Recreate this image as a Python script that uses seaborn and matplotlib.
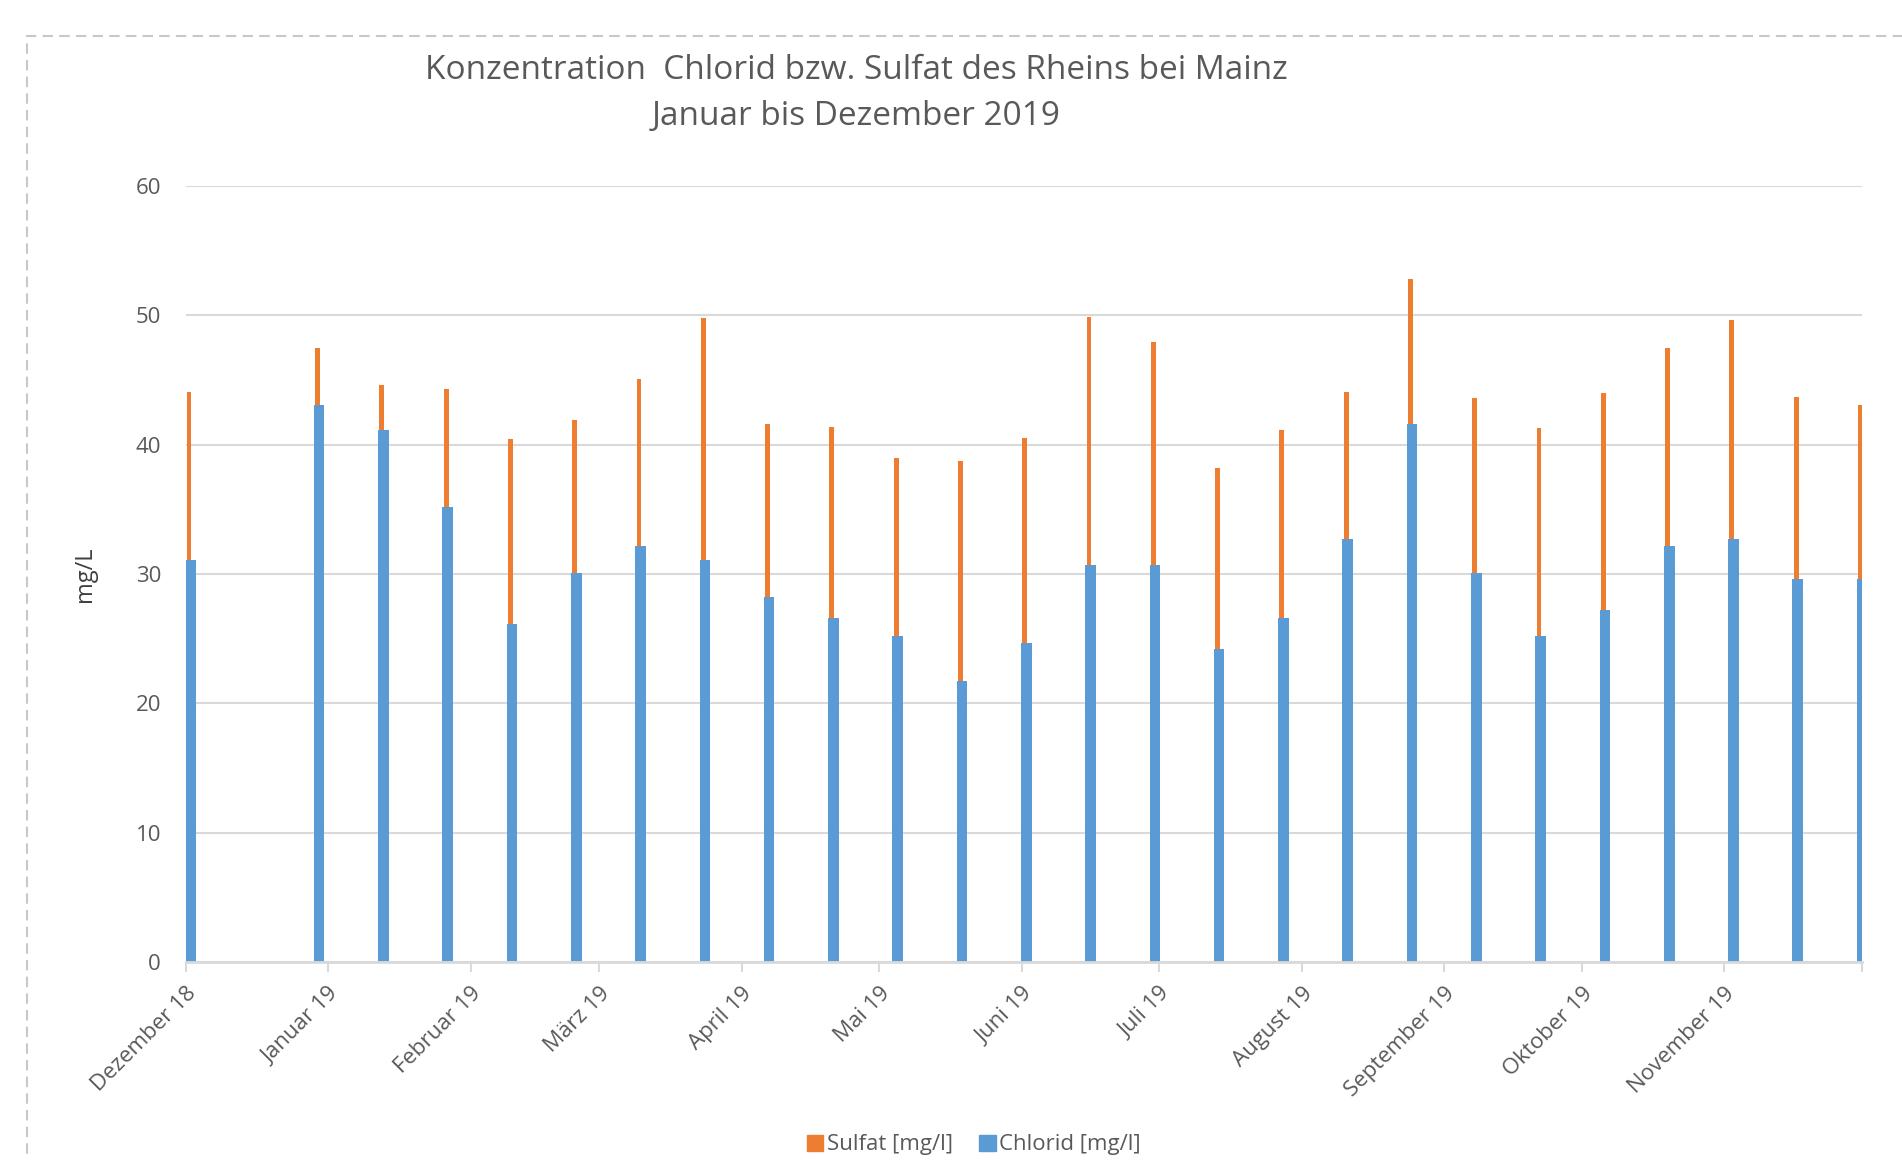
import numpy as np
import pandas as pd
import matplotlib
matplotlib.use("Agg")
import matplotlib.pyplot as plt
import matplotlib.dates as mdates
import matplotlib.patches as mpatches
import seaborn as sns

# ---- data ----
dates = ["2018-12-02", "2018-12-30", "2019-01-13", "2019-01-27", "2019-02-10",
         "2019-02-24", "2019-03-10", "2019-03-24", "2019-04-07", "2019-04-21",
         "2019-05-05", "2019-05-19", "2019-06-02", "2019-06-16", "2019-06-30",
         "2019-07-14", "2019-07-28", "2019-08-11", "2019-08-25", "2019-09-08",
         "2019-09-22", "2019-10-06", "2019-10-20", "2019-11-03", "2019-11-17",
         "2019-12-01"]
sulfat = [44.1, 47.5, 44.6, 44.3, 40.4, 41.9, 45.1, 49.8, 41.6, 41.4,
          39.0, 38.7, 40.5, 49.9, 47.9, 38.2, 41.1, 44.1, 52.8, 43.6,
          41.3, 44.0, 47.5, 49.6, 43.7, 43.1]
chlorid = [31.1, 43.1, 41.1, 35.2, 26.1, 30.1, 32.2, 31.1, 28.2, 26.6,
           25.2, 21.7, 24.7, 30.7, 30.7, 24.2, 26.6, 32.7, 41.6, 30.1,
           25.2, 27.2, 32.2, 32.7, 29.6, 29.6]
month_ticks = ["2018-12-01", "2019-01-01", "2019-02-01", "2019-03-01", "2019-04-01",
               "2019-05-01", "2019-06-01", "2019-07-01", "2019-08-01", "2019-09-01",
               "2019-10-01", "2019-11-01", "2019-12-01"]
month_labels = ["Dezember 18", "Januar 19", "Februar 19", "März 19", "April 19",
                "Mai 19", "Juni 19", "Juli 19", "August 19", "September 19",
                "Oktober 19", "November 19", ""]

ORANGE = "#ED7D31"
BLUE = "#5B9BD5"
GRAY_TXT = "#595959"
GRID = "#D9D9D9"

sns.set_theme(style="white")
plt.rcParams['font.family'] = ['Open Sans', 'DejaVu Sans']

dnum = mdates.date2num(pd.to_datetime(dates))
df = pd.DataFrame({"x_s": dnum - 0.35, "x_c": dnum, "Sulfat": sulfat, "Chlorid": chlorid})

fig = plt.figure(figsize=(19.02, 11.60), dpi=100)
ax = fig.add_axes([0.0978, 0.1707, 0.9790 - 0.0978, 0.8397 - 0.1707])

sns.barplot(data=df, x="x_s", y="Sulfat", native_scale=True, width=0.075,
            color=ORANGE, saturation=1, errorbar=None, ax=ax, zorder=2,
            linewidth=0)
sns.barplot(data=df, x="x_c", y="Chlorid", native_scale=True, width=0.165,
            color=BLUE, saturation=1, errorbar=None, ax=ax, zorder=3,
            linewidth=0)

tick_nums = mdates.date2num(pd.to_datetime(month_ticks))
ax.set_xlim(tick_nums[0], tick_nums[-1])
ax.set_ylim(0, 60)
ax.set_xticks(tick_nums)
ax.set_xticklabels(month_labels, rotation=45, ha="right", va="top",
                   rotation_mode="anchor", color=GRAY_TXT, fontsize=16)
ax.set_yticks(range(0, 61, 10))
ax.set_yticklabels([str(v) for v in range(0, 61, 10)], color=GRAY_TXT, fontsize=16)
ax.tick_params(axis="y", length=0, pad=18)
ax.tick_params(axis="x", length=7, width=1.5, color=GRID, pad=8, direction="out", bottom=True)
ax.yaxis.grid(True, color=GRID, linewidth=1.5, zorder=0)
ax.xaxis.grid(False)
ax.set_axisbelow(True)
for s in ["top", "right", "left"]:
    ax.spines[s].set_visible(False)
ax.spines["bottom"].set_color(GRID)
ax.spines["bottom"].set_linewidth(2)
ax.spines["bottom"].set_zorder(4)

ax.set_xlabel("")
ax.set_ylabel("mg/L", fontsize=17, color="#404040", labelpad=28)

fig.text(0.450, 0.9395, "Konzentration  Chlorid bzw. Sulfat des Rheins bei Mainz",
         ha="center", va="center", fontsize=24, color=GRAY_TXT)
fig.text(0.450, 0.8995, "Januar bis Dezember 2019",
         ha="center", va="center", fontsize=24, color=GRAY_TXT)

handles = [mpatches.Patch(color=ORANGE, label="Sulfat [mg/l]"),
           mpatches.Patch(color=BLUE, label="Chlorid [mg/l]")]
leg = fig.legend(handles=handles, loc="center", bbox_to_anchor=(0.512, 0.013),
                 ncol=2, frameon=False, fontsize=16, handlelength=0.75,
                 handleheight=0.75, handletextpad=0.15, columnspacing=1.2)
for t in leg.get_texts():
    t.set_color(GRAY_TXT)

# dashed chart container border
border = mpatches.Rectangle((27 / 1902, -0.05), 1.2, 1 - 36 / 1160 + 0.05,
                            transform=fig.transFigure, fill=False,
                            edgecolor="#C8C8C8", linewidth=1.5,
                            linestyle=(0, (5, 3)), zorder=0)
fig.patches.append(border)

fig.savefig("out.png", dpi=100)
